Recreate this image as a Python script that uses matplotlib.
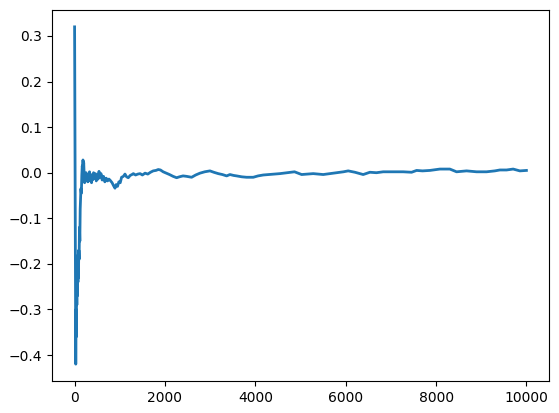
import matplotlib
matplotlib.use("Agg")
import matplotlib.pyplot as plt

# 読み取った値（インデックス, 値）
steps = [
    0, 8, 14, 20, 26, 32, 38, 44, 50, 56, 62, 68, 74, 80, 86, 92, 100, 108,
    116, 124, 132, 140, 150, 160, 170, 178, 186, 194, 202, 212, 222, 232, 242,
    255, 268, 280, 292, 305, 318, 330, 345, 360, 375, 390, 405, 420, 440, 460,
    480, 500, 520, 540, 560, 585, 610, 640, 670, 700, 730, 760, 790, 830, 860,
    894, 920, 950, 980, 1010, 1040, 1080, 1115, 1150, 1188, 1230, 1270, 1300,
    1350, 1400, 1450, 1500, 1560, 1620, 1680, 1740, 1800, 1852, 1900, 1960,
    2030, 2100, 2180, 2258, 2320, 2400, 2480, 2590, 2680, 2774, 2880, 2996,
    3080, 3179, 3270, 3365, 3438, 3520, 3586, 3700, 3807, 3954, 4060, 4175,
    4300, 4420, 4544, 4700, 4867, 5025, 5150, 5281, 5400, 5502, 5650, 5799,
    5950, 6055, 6204, 6387, 6535, 6680, 6830, 7051, 7272, 7458, 7569, 7700,
    7863, 8084, 8305, 8453, 8675, 8896, 9117, 9300, 9412, 9560, 9706, 9854,
    9999,
]
values = [
    0.32, 0.10, -0.05, -0.22, -0.42, -0.30, -0.36, -0.25, -0.29, -0.21, -0.27,
    -0.19, -0.24, -0.18, -0.23, -0.17, -0.19, -0.12, -0.15, -0.08, -0.06,
    -0.035, -0.045, -0.005, 0.015, 0.005, 0.028, 0.012, 0.022, -0.005, -0.022,
    -0.008, -0.018, 0.0, -0.015, -0.004, -0.02, -0.006, -0.018, 0.002, -0.014,
    -0.004, -0.022, -0.008, -0.015, 0.0, -0.012, -0.002, -0.018, -0.005,
    -0.014, 0.003, -0.01, -0.002, -0.016, -0.008, -0.02, -0.012, -0.018,
    -0.014, -0.017, -0.022, -0.028, -0.034, -0.026, -0.03, -0.02, -0.022,
    -0.01, -0.008, -0.003, -0.009, -0.011, -0.006, -0.004, -0.002, -0.005,
    -0.003, -0.002, -0.005, -0.001, -0.003, 0.001, 0.004, 0.005, 0.007, 0.006,
    0.002, -0.001, -0.004, -0.008, -0.011, -0.009, -0.007, -0.008, -0.010,
    -0.005, -0.001, 0.002, 0.004, 0.001, -0.002, -0.004, -0.007, -0.004,
    -0.006, -0.007, -0.009, -0.010, -0.010, -0.007, -0.005, -0.004, -0.003,
    -0.002, 0.0, 0.002, -0.004, -0.003, -0.002, -0.003, -0.004, -0.002, 0.0,
    0.002, 0.004, 0.001, -0.004, 0.001, 0.0, 0.002, 0.002, 0.002, 0.001,
    0.005, 0.004, 0.005, 0.008, 0.008, 0.002, 0.004, 0.002, 0.002, 0.004,
    0.006, 0.006, 0.008, 0.004, 0.005,
]

fig = plt.figure(figsize=(5.59, 4.13), dpi=100)
ax = fig.add_axes([52 / 559, 1 - 381 / 413, 497 / 559, 371 / 413])
ax.plot(steps, values, color="#1f77b4", linewidth=2.0)

fig.savefig("out.png", dpi=100)
